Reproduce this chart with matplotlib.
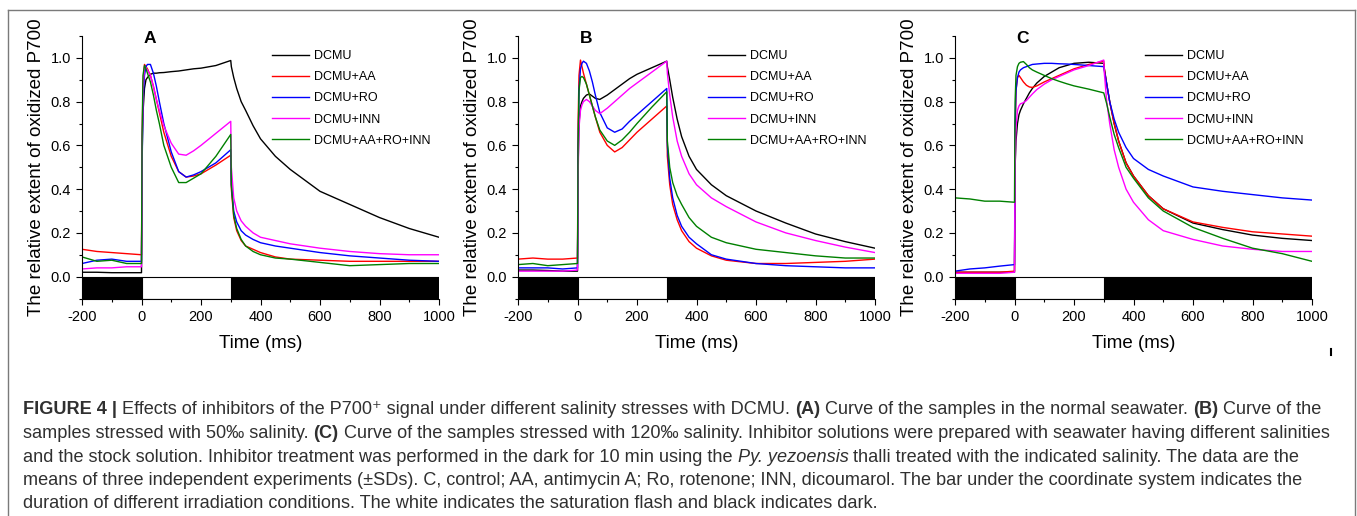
import matplotlib
matplotlib.use('Agg')
import matplotlib.pyplot as plt
from matplotlib.lines import Line2D
from matplotlib.ticker import MultipleLocator

plt.rcParams['font.family'] = ['Liberation Sans', 'DejaVu Sans']
plt.rcParams['axes.unicode_minus'] = False

# time points (ms) shared by every trace
t_ms = [-200, -150, -100, -50, 0, 2, 5, 10, 15, 20, 30, 40, 50, 60, 75,
        100, 125, 150, 175, 200, 250, 300, 302, 310, 320, 335, 350, 375,
        400, 450, 500, 600, 700, 800, 900, 1000]

# panel A - normal seawater
a_dcmu = [0.020, 0.020, 0.018, 0.018, 0.018, 0.55, 0.75, 0.86, 0.90, 0.91, 0.925, 0.93, 0.93, 0.932, 0.933,
          0.937, 0.94, 0.945, 0.95, 0.953, 0.965, 0.988, 0.96, 0.91, 0.86, 0.80, 0.76, 0.69,
          0.63, 0.55, 0.49, 0.39, 0.33, 0.27, 0.22, 0.18]
a_aa = [0.125, 0.115, 0.11, 0.105, 0.10, 0.60, 0.88, 0.97, 0.96, 0.95, 0.92, 0.87, 0.81, 0.75, 0.66,
        0.55, 0.48, 0.455, 0.46, 0.47, 0.51, 0.555, 0.40, 0.27, 0.21, 0.165, 0.14, 0.125,
        0.11, 0.09, 0.08, 0.075, 0.07, 0.07, 0.07, 0.07]
a_ro = [0.06, 0.075, 0.08, 0.07, 0.07, 0.50, 0.80, 0.92, 0.96, 0.97, 0.97, 0.93, 0.87, 0.80, 0.70,
        0.57, 0.48, 0.455, 0.465, 0.48, 0.52, 0.58, 0.42, 0.30, 0.25, 0.21, 0.19, 0.17,
        0.155, 0.14, 0.13, 0.11, 0.095, 0.085, 0.075, 0.07]
a_inn = [0.035, 0.04, 0.04, 0.045, 0.045, 0.60, 0.85, 0.96, 0.955, 0.945, 0.92, 0.87, 0.81, 0.76, 0.69,
         0.61, 0.56, 0.555, 0.575, 0.60, 0.655, 0.71, 0.50, 0.36, 0.30, 0.255, 0.23, 0.20,
         0.18, 0.165, 0.15, 0.13, 0.115, 0.105, 0.10, 0.10]
a_all = [0.09, 0.07, 0.075, 0.06, 0.06, 0.65, 0.92, 0.965, 0.95, 0.93, 0.89, 0.83, 0.76, 0.70, 0.60,
         0.50, 0.43, 0.43, 0.45, 0.47, 0.55, 0.65, 0.42, 0.28, 0.22, 0.17, 0.14, 0.115,
         0.10, 0.085, 0.08, 0.065, 0.05, 0.055, 0.06, 0.06]

# panel B - 50 permil salinity
b_dcmu = [0.03, 0.03, 0.028, 0.025, 0.025, 0.50, 0.70, 0.78, 0.80, 0.815, 0.83, 0.835, 0.825, 0.815, 0.81,
          0.83, 0.855, 0.88, 0.905, 0.925, 0.955, 0.985, 0.96, 0.90, 0.82, 0.72, 0.64, 0.55,
          0.49, 0.42, 0.37, 0.30, 0.245, 0.195, 0.16, 0.13]
b_aa = [0.08, 0.085, 0.08, 0.08, 0.085, 0.70, 0.92, 0.99, 0.96, 0.93, 0.88, 0.83, 0.78, 0.73, 0.66,
        0.60, 0.57, 0.59, 0.625, 0.66, 0.72, 0.78, 0.55, 0.42, 0.33, 0.26, 0.21, 0.16,
        0.13, 0.095, 0.075, 0.06, 0.06, 0.065, 0.07, 0.08]
b_ro = [0.04, 0.04, 0.04, 0.035, 0.04, 0.55, 0.85, 0.95, 0.975, 0.985, 0.975, 0.94, 0.89, 0.83, 0.75,
        0.68, 0.66, 0.675, 0.71, 0.74, 0.80, 0.86, 0.60, 0.45, 0.36, 0.28, 0.23, 0.18,
        0.15, 0.10, 0.08, 0.06, 0.05, 0.045, 0.04, 0.04]
b_inn = [0.025, 0.025, 0.025, 0.025, 0.03, 0.45, 0.68, 0.76, 0.785, 0.80, 0.81, 0.80, 0.78, 0.76, 0.745,
         0.77, 0.80, 0.83, 0.86, 0.885, 0.935, 0.985, 0.93, 0.83, 0.73, 0.62, 0.55, 0.47,
         0.42, 0.36, 0.32, 0.25, 0.20, 0.165, 0.135, 0.11]
b_all = [0.055, 0.06, 0.05, 0.055, 0.06, 0.60, 0.85, 0.91, 0.915, 0.91, 0.88, 0.83, 0.78, 0.73, 0.67,
         0.62, 0.60, 0.625, 0.66, 0.70, 0.775, 0.845, 0.62, 0.50, 0.43, 0.37, 0.33, 0.27,
         0.23, 0.18, 0.155, 0.125, 0.11, 0.095, 0.085, 0.085]

# panel C - 120 permil salinity
c_dcmu = [0.02, 0.02, 0.02, 0.02, 0.02, 0.50, 0.62, 0.70, 0.74, 0.76, 0.79, 0.815, 0.84, 0.86, 0.885,
          0.915, 0.935, 0.955, 0.965, 0.975, 0.98, 0.975, 0.95, 0.88, 0.80, 0.70, 0.62, 0.52,
          0.46, 0.37, 0.31, 0.245, 0.215, 0.19, 0.175, 0.165]
c_aa = [0.02, 0.02, 0.02, 0.02, 0.025, 0.60, 0.85, 0.91, 0.92, 0.91, 0.89, 0.875, 0.867, 0.865, 0.872,
        0.89, 0.905, 0.92, 0.935, 0.95, 0.97, 0.985, 0.95, 0.88, 0.80, 0.70, 0.62, 0.52,
        0.46, 0.37, 0.31, 0.25, 0.225, 0.205, 0.195, 0.185]
c_ro = [0.025, 0.035, 0.04, 0.048, 0.055, 0.70, 0.85, 0.91, 0.935, 0.945, 0.955, 0.96, 0.965, 0.97, 0.972,
        0.975, 0.975, 0.973, 0.972, 0.97, 0.965, 0.96, 0.94, 0.88, 0.80, 0.72, 0.66, 0.59,
        0.54, 0.49, 0.46, 0.41, 0.39, 0.375, 0.36, 0.35]
c_inn = [0.015, 0.015, 0.015, 0.015, 0.02, 0.50, 0.68, 0.76, 0.78, 0.79, 0.795, 0.805, 0.82, 0.835, 0.855,
         0.88, 0.90, 0.915, 0.93, 0.945, 0.965, 0.99, 0.93, 0.80, 0.70, 0.58, 0.50, 0.40,
         0.34, 0.26, 0.21, 0.17, 0.14, 0.125, 0.115, 0.115]
c_all = [0.36, 0.355, 0.345, 0.345, 0.34, 0.80, 0.92, 0.96, 0.975, 0.98, 0.983, 0.97, 0.955, 0.945, 0.935,
         0.92, 0.905, 0.893, 0.882, 0.872, 0.857, 0.84, 0.83, 0.79, 0.73, 0.65, 0.59, 0.50,
         0.45, 0.36, 0.30, 0.225, 0.175, 0.13, 0.105, 0.07]

labels = ['DCMU', 'DCMU+AA', 'DCMU+RO', 'DCMU+INN', 'DCMU+AA+RO+INN']
colors = ['#000000', '#ff0000', '#0000ff', '#ff00ff', '#008000']
panels = [('A', [a_dcmu, a_aa, a_ro, a_inn, a_all]),
          ('B', [b_dcmu, b_aa, b_ro, b_inn, b_all]),
          ('C', [c_dcmu, c_aa, c_ro, c_inn, c_all])]

# irradiation bar under the curves (start, length)
dark_ranges = [(-200, 200), (300, 700)]
light_ranges = [(0, 300)]

W, H = 1357, 516
fig = plt.figure(figsize=(W / 100, H / 100), dpi=100)

ax_lefts = [82, 518, 955]
for left, (letter, series) in zip(ax_lefts, panels):
    ax = fig.add_axes([left / W, 1 - 298.5 / H, 357 / W, 262.5 / H])
    for vals, col, lab in zip(series, colors, labels):
        ax.plot(t_ms, vals, color=col, lw=1.0, label=lab)
    ax.broken_barh(dark_ranges, (-0.1, 0.1), facecolor='black', edgecolor='black', lw=0.8)
    ax.broken_barh(light_ranges, (-0.1, 0.1), facecolor='white', edgecolor='black', lw=0.8)
    ax.set_xlim(-200, 1000)
    ax.set_ylim(-0.1, 1.1)
    ax.set_xticks(range(-200, 1001, 200))
    ax.set_yticks([0.0, 0.2, 0.4, 0.6, 0.8, 1.0])
    ax.set_yticklabels(['0.0', '0.2', '0.4', '0.6', '0.8', '1.0'])
    ax.xaxis.set_minor_locator(MultipleLocator(100))
    ax.yaxis.set_minor_locator(MultipleLocator(0.1))
    ax.tick_params(which='major', direction='out', length=4, width=0.8, labelsize=10.5, pad=4)
    ax.tick_params(which='minor', direction='out', length=2.5, width=0.8)
    for s in ['top', 'right']:
        ax.spines[s].set_visible(False)
    for s in ['left', 'bottom']:
        ax.spines[s].set_linewidth(0.8)
    ax.set_xlabel('Time (ms)', fontsize=13.5, labelpad=8)
    ax.set_ylabel('The relative extent of oxidized P700', fontsize=13.5, labelpad=4)
    ax.text(0.19, 0.99, letter, transform=ax.transAxes, fontsize=12.5, fontweight='bold',
            ha='center', va='center')
    ax.legend(loc='upper left', bbox_to_anchor=(0.532, 0.946), frameon=False, fontsize=9,
              handlelength=3.0, handletextpad=0.35, labelspacing=0.73,
              borderaxespad=0, borderpad=0)

# caption
cap = fig.add_axes([0, 0, 1, 1], zorder=-1)
cap.axis('off')
cap.set_xlim(0, W)
cap.set_ylim(H, 0)

caption_lines = [
    [("FIGURE 4 | ", 'bold'),
     ("Effects of inhibitors of the P700\u207a signal under different salinity stresses with DCMU. ", 'normal'),
     ("(A)", 'bold'), (" Curve of the samples in the normal seawater. ", 'normal'),
     ("(B)", 'bold'), (" Curve of the", 'normal')],
    [("samples stressed with 50\u2030 salinity. ", 'normal'), ("(C)", 'bold'),
     (" Curve of the samples stressed with 120\u2030 salinity. Inhibitor solutions were prepared with seawater having different salinities", 'normal')],
    [("and the stock solution. Inhibitor treatment was performed in the dark for 10 min using the ", 'normal'),
     ("Py. yezoensis", 'italic'),
     (" thalli treated with the indicated salinity. The data are the", 'normal')],
    [("means of three independent experiments (\u00b1SDs). C, control; AA, antimycin A; Ro, rotenone; INN, dicoumarol. The bar under the coordinate system indicates the", 'normal')],
    [("duration of different irradiation conditions. The white indicates the saturation flash and black indicates dark.", 'normal')],
]
line_y = [410, 433.5, 457, 480.5, 504]
cap_color = '#303030'
cap_size = 13.05
for y, pieces in zip(line_y, caption_lines):
    prev = None
    for txt, style in pieces:
        kw = dict(fontsize=cap_size, color=cap_color, va='center', ha='left')
        if style == 'bold':
            kw['fontweight'] = 'bold'
        elif style == 'italic':
            kw['fontstyle'] = 'italic'
        if prev is None:
            prev = cap.text(23, y, txt, **kw)
        else:
            prev = cap.annotate(txt, xy=(1, 0.5), xycoords=prev, **kw)

# page frame around the figure
frame_col = '#7a7a7a'
fig.add_artist(Line2D([7.5 / W, 7.5 / W], [0, 1 - 9.5 / H], color=frame_col, lw=1.0))
fig.add_artist(Line2D([7.5 / W, 1355 / W], [1 - 9.5 / H, 1 - 9.5 / H], color=frame_col, lw=1.0))
fig.add_artist(Line2D([1355 / W, 1355 / W], [0, 1 - 9.5 / H], color=frame_col, lw=1.0))
fig.add_artist(Line2D([1331 / W, 1331 / W], [1 - 355 / H, 1 - 349 / H], color='black', lw=1.5))

fig.savefig('out.png', dpi=100)
